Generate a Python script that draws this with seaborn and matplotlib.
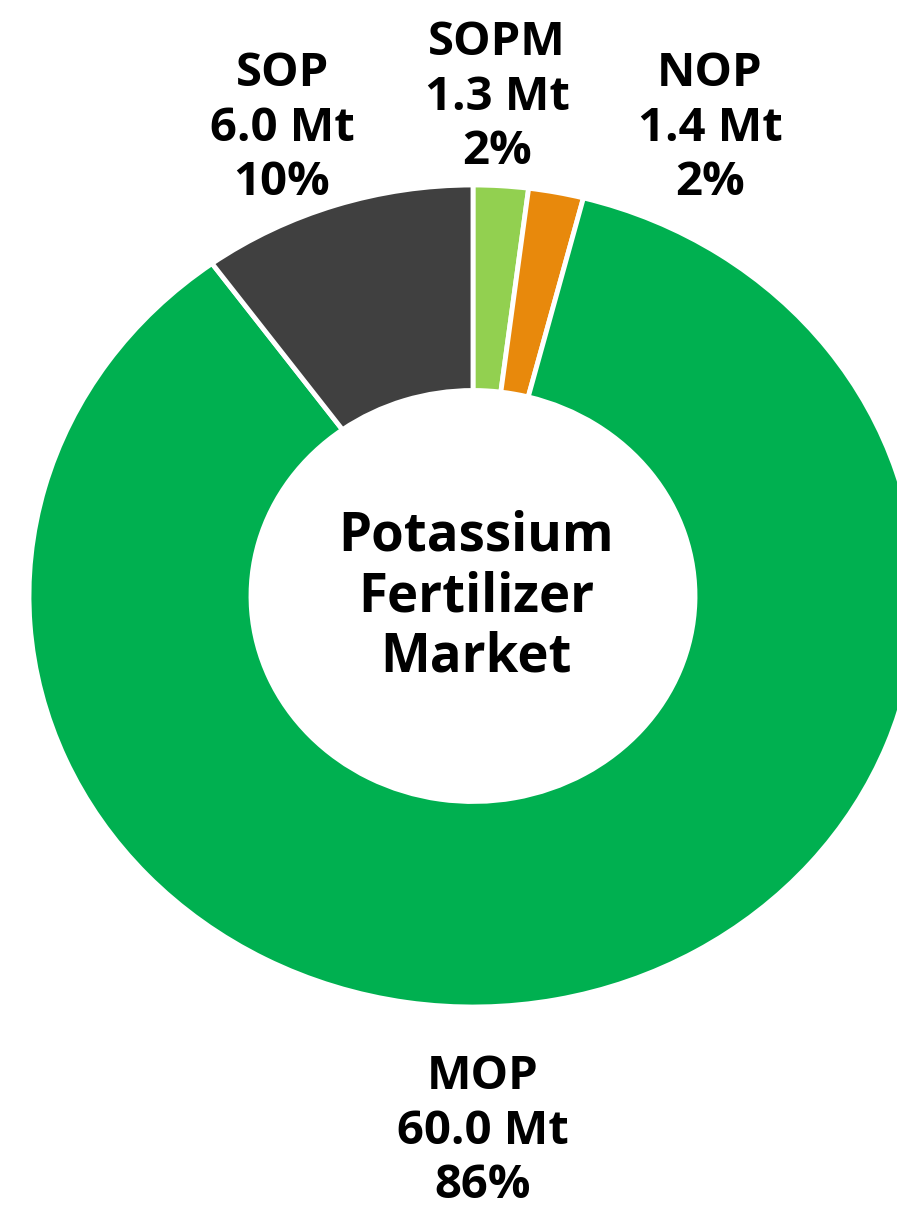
import matplotlib
matplotlib.use("Agg")
import matplotlib.pyplot as plt
import seaborn as sns

# Data
categories = ["SOPM", "NOP", "MOP", "SOP"]
volumes_mt = [1.3, 1.4, 60.0, 6.0]
shares_pct = [2, 2, 86, 10]
colors = ["#92D050", "#E8890C", "#00B050", "#404040"]
center_title = "Potassium\nFertilizer\nMarket"

sns.set_theme(style="white")
plt.rcParams['font.family'] = ['Open Sans', 'DejaVu Sans']

W, H, DPI = 897, 1210, 100
fig = plt.figure(figsize=(W / DPI, H / DPI), dpi=DPI)
ax = fig.add_axes([0, 0, 1, 1])

# pixel geometry of the (slightly stretched) ring
cx, cy, rx, ry = 473, 596, 444, 411

ax.pie(shares_pct, colors=colors, startangle=90, counterclock=False,
       radius=1.0, wedgeprops=dict(width=0.5, edgecolor="white", linewidth=3.5))
ax.set_aspect("auto")
ax.set_xlim(-cx / rx, (W - cx) / rx)
ax.set_ylim((cy - H) / ry, cy / ry)
ax.axis("off")

def px(x, y):
    return (x - cx) / rx, (cy - y) / ry

label_px = {"SOP": (282, 128), "SOPM": (497, 97), "NOP": (710, 128), "MOP": (483, 1131)}
for cat, vol, pct in zip(categories, volumes_mt, shares_pct):
    x, y = px(*label_px[cat])
    ax.text(x, y, f"{cat}\n{vol:.1f} Mt\n{pct}%", ha="center", va="center",
            fontsize=34, fontweight="bold", color="black", linespacing=1.2)

x, y = px(476, 597)
ax.text(x, y, center_title, ha="center", va="center", fontsize=38,
        fontweight="bold", color="black", linespacing=1.16)

fig.savefig("out.png", dpi=DPI, facecolor="white")
